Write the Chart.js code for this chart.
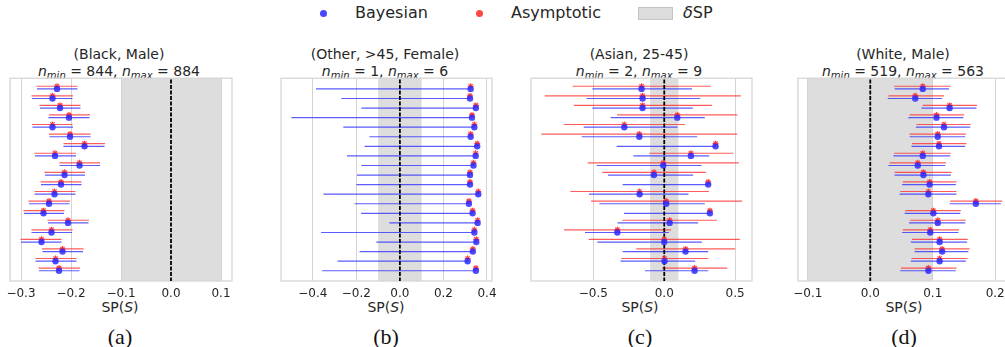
<!DOCTYPE html>
<html>
<head>
<meta charset="utf-8">
<script src="https://cdn.jsdelivr.net/npm/chart.js@4.4.0/dist/chart.umd.min.js"></script>
<style>
body{margin:0;width:1005px;height:347px;overflow:hidden;background:#fff;position:relative;font-family:'DejaVu Sans',sans-serif;color:#262626}
.abs{position:absolute;white-space:nowrap}
.ctr{transform:translateX(-50%);text-align:center}
.ttl{font-size:14px;line-height:17px;top:46px}
.ttl sub{font-size:10px;line-height:0;vertical-align:-3px}
.xlab{font-size:14px;line-height:16px;top:299px}
.letter{font-family:'Liberation Serif',serif;font-size:22px;line-height:24px;top:325px;color:#111}
.leg{font-size:16px;line-height:20px;top:3px}
.dot{position:absolute;width:7px;height:7px;border-radius:50%;top:10px}
</style>
</head>
<body>

<div class="dot" style="left:320px;background:rgb(70,70,255)"></div>
<div class="abs leg" style="left:355px">Bayesian</div>
<div class="dot" style="left:476px;background:rgb(255,70,70)"></div>
<div class="abs leg" style="left:511px">Asymptotic</div>
<div class="abs" style="left:638px;top:7px;width:33px;height:11px;background:#dcdcdc;border:1px solid #c4c4c4"></div>
<div class="abs leg" style="left:683px"><i>δ</i>SP</div>

<script>
// row categories (top to bottom) are the 20 repeated estimates in each panel
const deltaSP = 0.1;

// (a) Black, Male
const blackMaleBayes   = [-0.228,-0.237,-0.222,-0.204,-0.237,-0.202,-0.173,-0.232,-0.183,-0.213,-0.220,-0.233,-0.244,-0.255,-0.206,-0.239,-0.259,-0.217,-0.231,-0.224];
const blackMaleBayesLo = [-0.268,-0.278,-0.262,-0.245,-0.277,-0.243,-0.215,-0.272,-0.223,-0.252,-0.260,-0.273,-0.284,-0.294,-0.246,-0.279,-0.300,-0.257,-0.271,-0.264];
const blackMaleBayesHi = [-0.187,-0.197,-0.181,-0.163,-0.196,-0.161,-0.133,-0.190,-0.142,-0.172,-0.179,-0.191,-0.203,-0.214,-0.165,-0.198,-0.219,-0.176,-0.189,-0.183];
const blackMaleAsym    = [-0.228,-0.237,-0.222,-0.204,-0.237,-0.202,-0.173,-0.232,-0.183,-0.213,-0.220,-0.233,-0.244,-0.255,-0.206,-0.239,-0.259,-0.217,-0.231,-0.224];
const blackMaleAsymLo  = [-0.269,-0.279,-0.263,-0.244,-0.278,-0.244,-0.215,-0.273,-0.223,-0.253,-0.261,-0.273,-0.285,-0.295,-0.247,-0.279,-0.301,-0.258,-0.271,-0.265];
const blackMaleAsymHi  = [-0.187,-0.196,-0.181,-0.162,-0.197,-0.161,-0.132,-0.190,-0.142,-0.172,-0.179,-0.191,-0.202,-0.213,-0.164,-0.197,-0.219,-0.175,-0.189,-0.182];

// (b) Other, >45, Female
const otherFemaleBayes   = [0.325,0.322,0.349,0.331,0.342,0.325,0.355,0.348,0.338,0.322,0.322,0.360,0.317,0.334,0.357,0.342,0.351,0.335,0.311,0.349];
const otherFemaleBayesLo = [-0.385,-0.269,-0.177,-0.498,-0.260,-0.140,-0.162,-0.243,-0.177,-0.197,-0.200,-0.351,-0.208,-0.178,-0.048,-0.362,-0.108,-0.185,-0.286,-0.357];
const otherFemaleBayesHi = [0.325,0.322,0.349,0.331,0.342,0.325,0.355,0.348,0.338,0.322,0.322,0.360,0.317,0.334,0.357,0.342,0.351,0.335,0.311,0.349];
const otherFemaleAsym    = [0.325,0.322,0.349,0.331,0.342,0.325,0.355,0.348,0.338,0.322,0.322,0.360,0.317,0.334,0.357,0.342,0.351,0.335,0.311,0.349];
const otherFemaleAsymLo  = [0.319,0.316,0.343,0.325,0.336,0.319,0.349,0.342,0.332,0.316,0.316,0.354,0.311,0.328,0.351,0.336,0.345,0.329,0.305,0.343];
const otherFemaleAsymHi  = [0.331,0.328,0.355,0.337,0.348,0.331,0.361,0.354,0.344,0.328,0.328,0.366,0.323,0.340,0.363,0.348,0.357,0.341,0.317,0.355];

// (c) Asian, 25-45
const asianBayes   = [-0.160,-0.153,-0.153,0.092,-0.282,-0.176,0.362,0.188,-0.007,-0.073,0.310,-0.174,0.014,0.322,0.038,-0.331,0.000,0.150,0.002,0.214];
const asianBayesLo = [-0.507,-0.549,-0.507,-0.378,-0.568,-0.582,-0.336,-0.218,-0.477,-0.397,-0.293,-0.531,-0.458,-0.284,-0.329,-0.559,-0.472,-0.293,-0.308,-0.136];
const asianBayesHi = [0.195,0.254,0.202,0.286,0.094,0.232,0.362,0.317,0.263,0.204,0.310,0.171,0.286,0.322,0.239,0.033,0.265,0.310,0.218,0.310];
const asianAsym    = [-0.160,-0.153,-0.153,0.092,-0.282,-0.176,0.362,0.188,-0.007,-0.073,0.310,-0.174,0.014,0.322,0.038,-0.331,0.000,0.150,0.002,0.214];
const asianAsymLo  = [-0.646,-0.843,-0.638,-0.333,-0.709,-0.866,0.362,-0.106,-0.540,-0.437,0.310,-0.662,-0.516,0.322,-0.296,-0.707,-0.533,-0.197,-0.303,-0.014];
const asianAsymHi  = [0.329,0.540,0.336,0.516,0.146,0.514,0.362,0.486,0.526,0.293,0.310,0.315,0.549,0.322,0.371,0.047,0.533,0.500,0.310,0.444];

// (d) White, Male
const whiteMaleBayes   = [0.084,0.072,0.127,0.106,0.118,0.108,0.110,0.084,0.076,0.085,0.095,0.093,0.169,0.101,0.108,0.096,0.111,0.115,0.111,0.093];
const whiteMaleBayesLo = [0.039,0.028,0.082,0.061,0.073,0.063,0.066,0.037,0.029,0.039,0.051,0.047,0.127,0.055,0.062,0.051,0.065,0.071,0.065,0.048];
const whiteMaleBayesHi = [0.126,0.115,0.170,0.149,0.160,0.152,0.152,0.128,0.120,0.129,0.137,0.138,0.209,0.144,0.152,0.141,0.155,0.157,0.153,0.137];
const whiteMaleAsym    = [0.084,0.072,0.127,0.106,0.118,0.108,0.110,0.084,0.076,0.085,0.095,0.093,0.169,0.101,0.108,0.096,0.111,0.115,0.111,0.093];
const whiteMaleAsymLo  = [0.038,0.029,0.084,0.063,0.074,0.063,0.067,0.038,0.031,0.039,0.052,0.048,0.128,0.056,0.064,0.052,0.067,0.071,0.066,0.049];
const whiteMaleAsymHi  = [0.129,0.118,0.171,0.150,0.161,0.153,0.154,0.129,0.121,0.130,0.138,0.138,0.211,0.145,0.153,0.142,0.156,0.159,0.156,0.138];

const panels = [
  {letter:'(a)', title:'(Black, Male)', nmin:844, nmax:884, left:10, right:232, min:-0.322, max:0.122, ticks:[-0.3,-0.2,-0.1,0,0.1], mid:119,
   bayes:blackMaleBayes, bayesLo:blackMaleBayesLo, bayesHi:blackMaleBayesHi, asym:blackMaleAsym, asymLo:blackMaleAsymLo, asymHi:blackMaleAsymHi},
  {letter:'(b)', title:'(Other, >45, Female)', nmin:1, nmax:6, left:281, right:491.7, min:-0.546, max:0.423, ticks:[-0.4,-0.2,0,0.2,0.4], mid:385,
   bayes:otherFemaleBayes, bayesLo:otherFemaleBayesLo, bayesHi:otherFemaleBayesHi, asym:otherFemaleAsym, asymLo:otherFemaleAsymLo, asymHi:otherFemaleAsymHi},
  {letter:'(c)', title:'(Asian, 25-45)', nmin:2, nmax:9, left:530.7, right:751.7, min:-0.94, max:0.619, ticks:[-0.5,0,0.5], mid:639,
   bayes:asianBayes, bayesLo:asianBayesLo, bayesHi:asianBayesHi, asym:asianAsym, asymLo:asianAsymLo, asymHi:asianAsymHi},
  {letter:'(d)', title:'(White, Male)', nmin:519, nmax:563, left:797.7, right:1010, min:-0.1157, max:0.2237, ticks:[-0.1,0,0.1,0.2], mid:903,
   bayes:whiteMaleBayes, bayesLo:whiteMaleBayesLo, bayesHi:whiteMaleBayesHi, asym:whiteMaleAsym, asymLo:whiteMaleAsymLo, asymHi:whiteMaleAsymHi}
];

const blueBar = 'rgba(50,50,255,0.8)';
const redBar = 'rgba(255,50,50,0.8)';
const redShift = -0.28;   // asymptotic row drawn a little above the bayesian one
const PAD = 30;

function fmtTick(v) {
  if (Math.abs(v) < 1e-9) return '0.0';
  return v.toFixed(1).replace('-', '\u2212');
}

// grey delta band, drawn under the grid
const shadePlugin = {
  id: 'shade',
  beforeDraw(chart) {
    let x = chart.scales.x, a = chart.chartArea, ctx = chart.ctx;
    let x0 = x.getPixelForValue(-deltaSP), x1 = x.getPixelForValue(deltaSP);
    ctx.save();
    ctx.fillStyle = '#dddddd';
    ctx.fillRect(x0, a.top, x1 - x0, a.bottom - a.top);
    ctx.restore();
  },
  beforeDatasetsDraw(chart) {
    let a = chart.chartArea, ctx = chart.ctx;
    ctx.save();
    ctx.strokeStyle = '#d6d6d6';
    ctx.lineWidth = 1.3;
    ctx.strokeRect(a.left, a.top, a.right - a.left, a.bottom - a.top);
    ctx.restore();
  }
};

function buildDatasets(p) {
  let ds = [];
  for (let i = 0; i < p.bayes.length; i++) {
    ds.push({data:[{x:p.asymLo[i], y:i + redShift}, {x:p.asymHi[i], y:i + redShift}],
      showLine:true, borderColor:redBar, borderWidth:1.2, pointRadius:0, order:5});
    ds.push({data:[{x:p.bayesLo[i], y:i}, {x:p.bayesHi[i], y:i}],
      showLine:true, borderColor:blueBar, borderWidth:1.2, pointRadius:0, order:4});
  }
  // zero line
  ds.push({data:[{x:0, y:-5}, {x:0, y:25}], showLine:true, borderColor:'#000', borderWidth:1.8,
    borderDash:[4,1.5], pointRadius:0, order:3});
  ds.push({data:p.asym.map((v, i) => ({x:v, y:i + redShift})), pointStyle:'star', pointRadius:3,
    borderColor:'rgba(255,40,40,0.9)', backgroundColor:'rgba(255,40,40,0.9)', borderWidth:1.2, order:2});
  ds.push({data:p.bayes.map((v, i) => ({x:v, y:i})), pointStyle:'circle', pointRadius:3.2,
    backgroundColor:'rgba(45,45,255,0.85)', borderWidth:0, order:1});
  return ds;
}

panels.forEach(function(p) {
  // titles and labels
  let t = document.createElement('div');
  t.className = 'abs ctr ttl';
  t.style.left = p.mid + 'px';
  t.innerHTML = p.title + '<br><i>n<sub>min</sub></i> = ' + p.nmin + ', <i>n<sub>max</sub></i> = ' + p.nmax;
  document.body.appendChild(t);

  let xl = document.createElement('div');
  xl.className = 'abs ctr xlab';
  xl.style.left = (p.mid + 1) + 'px';
  xl.innerHTML = 'SP(<i>S</i>)';
  document.body.appendChild(xl);

  let lt = document.createElement('div');
  lt.className = 'abs ctr letter';
  lt.style.left = (p.mid + 1) + 'px';
  lt.textContent = p.letter;
  document.body.appendChild(lt);

  let w = Math.round(p.right - p.left) + 2 * PAD;
  let wrap = document.createElement('div');
  wrap.className = 'abs';
  wrap.style.left = (p.left - PAD) + 'px';
  wrap.style.top = '73px';
  let cv = document.createElement('canvas');
  cv.width = w;
  cv.height = 5 + 203 + 24;
  wrap.appendChild(cv);
  document.body.appendChild(wrap);

  new Chart(cv, {
    type:'scatter',
    data:{datasets:buildDatasets(p)},
    plugins:[shadePlugin],
    options:{
      responsive:false,
      animation:false,
      devicePixelRatio:1,
      events:[],
      layout:{padding:{left:PAD, right:PAD, top:5, bottom:0}},
      plugins:{legend:{display:false}, tooltip:{enabled:false}},
      scales:{
        x:{
          type:'linear', min:p.min, max:p.max,
          afterBuildTicks:function(s) { s.ticks = p.ticks.map(v => ({value:v})); },
          afterFit:function(s) { s.height = 24; },
          grid:{color:'#d4d4d4', lineWidth:1, drawTicks:false},
          border:{display:false},
          ticks:{autoSkip:false, maxRotation:0, padding:6, color:'#262626',
            font:{family:'DejaVu Sans', size:12}, callback:function(v) { return fmtTick(v); }}
        },
        y:{type:'linear', display:false, min:-1.12, max:20.07, reverse:true}
      }
    }
  });
});
</script>
</body>
</html>
